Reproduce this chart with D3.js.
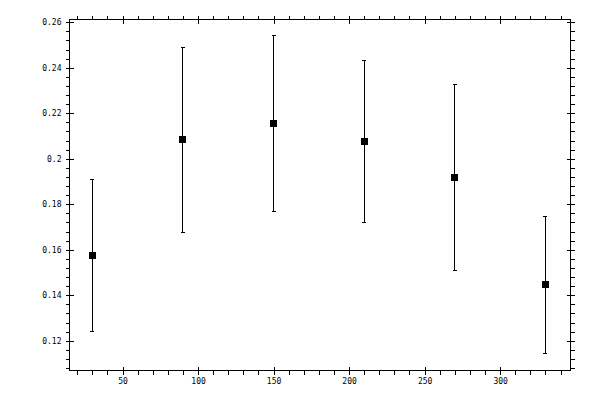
<!DOCTYPE html>
<meta charset="utf-8">
<script src="https://d3js.org/d3.v7.min.js"></script>
<style>
  body { margin: 0; background: #fff; }
  text { font-family: "DejaVu Sans Mono", monospace; font-size: 8px; fill: #000; }
</style>
<div id="chart"></div>
<script>

// data
var xs    = [30, 90, 150, 210, 270, 330];
var means = [0.1574, 0.2084, 0.2154, 0.2075, 0.1917, 0.1446];
var errs  = [0.0333, 0.0407, 0.0387, 0.0356, 0.0410, 0.0301];

// tick labels
var xTicks = [50, 100, 150, 200, 250, 300];
var yTicks = [0.12, 0.14, 0.16, 0.18, 0.2, 0.22, 0.24, 0.26];

var width = 600, height = 400;
var plotLeft = 69.5, plotRight = 570.5, plotTop = 19.5, plotBottom = 370.5;

var svg = d3.select("#chart")
  .append("svg")
    .attr("width", width)
    .attr("height", height);

var x = d3.scaleLinear()
  .domain([14.9, 346.6])
  .range([plotLeft, plotRight]);

var y = d3.scaleLinear()
  .domain([0.10694, 0.2612])
  .range([plotBottom, plotTop]);

var xMinor = d3.range(20, 350, 10);
var yMinor = d3.range(0, 39).map(function (i) { return +(0.108 + i * 0.004).toFixed(3); });

// draw one side: minor ticks outward, major ticks crossing the frame
function side(axisFn, scale, pos, major, minor, labels, horizontal) {
  var tr = horizontal ? "translate(0," + pos + ")" : "translate(" + pos + ",0)";

  var m = svg.append("g")
    .attr("transform", tr)
    .call(axisFn(scale).tickValues(minor).tickSize(4).tickFormat(""));
  m.select(".domain").remove();
  m.selectAll("text").remove();

  var g = svg.append("g")
    .attr("transform", tr)
    .call(axisFn(scale).tickValues(major).tickSize(4).tickPadding(4)
      .tickFormat(labels ? function (d) { return d; } : ""));
  g.select(".domain").remove();
  if (!labels) g.selectAll("text").remove();
  g.selectAll(".tick line").attr(horizontal ? "y1" : "x1", function () {
    return -(+d3.select(this).attr(horizontal ? "y2" : "x2"));
  });
  g.attr("font-family", null).attr("font-size", null);
  m.attr("font-family", null).attr("font-size", null);
}

side(d3.axisBottom, x, plotBottom, xTicks, xMinor, true, true);
side(d3.axisTop, x, plotTop, xTicks, xMinor, false, true);
side(d3.axisLeft, y, plotLeft, yTicks, yMinor, true, false);
side(d3.axisRight, y, plotRight, yTicks, yMinor, false, false);

svg.selectAll(".tick line")
  .attr("stroke", "#000")
  .attr("shape-rendering", "crispEdges");

// frame
svg.append("rect")
  .attr("x", plotLeft)
  .attr("y", plotTop)
  .attr("width", plotRight - plotLeft)
  .attr("height", plotBottom - plotTop)
  .attr("fill", "none")
  .attr("stroke", "#000")
  .attr("shape-rendering", "crispEdges");

// error bars
var bars = svg.append("g")
  .selectAll("g")
  .data(xs)
  .enter()
  .append("g");

bars.append("line")
  .attr("x1", function (d) { return x(d); })
  .attr("x2", function (d) { return x(d); })
  .attr("y1", function (d, i) { return y(means[i] + errs[i]); })
  .attr("y2", function (d, i) { return y(means[i] - errs[i]); });

bars.append("line")
  .attr("x1", function (d) { return x(d) - 2; })
  .attr("x2", function (d) { return x(d) + 2; })
  .attr("y1", function (d, i) { return y(means[i] + errs[i]); })
  .attr("y2", function (d, i) { return y(means[i] + errs[i]); });

bars.append("line")
  .attr("x1", function (d) { return x(d) - 2; })
  .attr("x2", function (d) { return x(d) + 2; })
  .attr("y1", function (d, i) { return y(means[i] - errs[i]); })
  .attr("y2", function (d, i) { return y(means[i] - errs[i]); });

bars.selectAll("line")
  .attr("stroke", "#000")
  .attr("stroke-width", 1)
  .attr("shape-rendering", "crispEdges");

// squares
bars.append("rect")
  .attr("x", function (d) { return x(d) - 3.5; })
  .attr("y", function (d, i) { return y(means[i]) - 3.5; })
  .attr("width", 7)
  .attr("height", 7)
  .attr("fill", "#000")
  .attr("shape-rendering", "crispEdges");

</script>
